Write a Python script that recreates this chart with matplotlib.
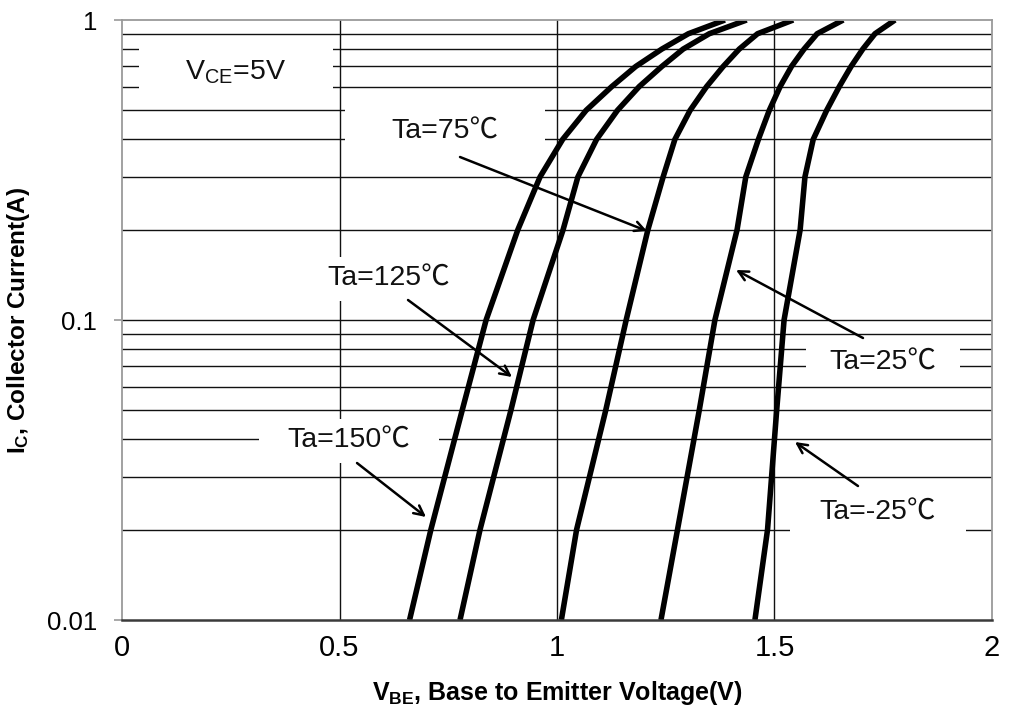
import matplotlib
matplotlib.use("Agg")
import matplotlib.pyplot as plt
from matplotlib.path import Path
from matplotlib.ticker import FixedLocator, NullFormatter, NullLocator

# ---- data ----
current_A = [0.01, 0.02, 0.05, 0.1, 0.2, 0.3, 0.4, 0.5, 0.6, 0.7, 0.8, 0.9, 1.0]
vbe_150 = [0.661, 0.710, 0.782, 0.837, 0.910, 0.961, 1.013, 1.067, 1.126, 1.181, 1.241, 1.302, 1.386]
vbe_125 = [0.777, 0.823, 0.894, 0.945, 1.014, 1.048, 1.091, 1.139, 1.189, 1.241, 1.290, 1.350, 1.436]
vbe_75 = [1.010, 1.045, 1.112, 1.159, 1.209, 1.244, 1.271, 1.306, 1.344, 1.382, 1.419, 1.461, 1.543]
vbe_25 = [1.239, 1.277, 1.327, 1.363, 1.414, 1.434, 1.463, 1.488, 1.513, 1.539, 1.568, 1.598, 1.658]
vbe_m25 = [1.455, 1.484, 1.505, 1.522, 1.559, 1.570, 1.589, 1.620, 1.649, 1.676, 1.703, 1.731, 1.777]
series = [vbe_150, vbe_125, vbe_75, vbe_25, vbe_m25]

x_ticks = [0, 0.5, 1, 1.5, 2]
x_tick_labels = ["0", "0.5", "1", "1.5", "2"]
y_ticks = [0.01, 0.1, 1]
y_tick_labels = ["0.01", "0.1", "1"]
y_minor = [k * 10.0 ** e for e in (-2, -1) for k in range(2, 10)]

FONT = ["Liberation Sans", "Noto Sans CJK JP", "DejaVu Sans"]

plt.rcParams["mathtext.fontset"] = "custom"
plt.rcParams["mathtext.rm"] = "Liberation Sans"
plt.rcParams["mathtext.it"] = "Liberation Sans"
plt.rcParams["mathtext.bf"] = "Liberation Sans:bold"

fig = plt.figure(figsize=(10.17, 7.12), dpi=100)
ax = fig.add_axes([0.120, 0.1292, 0.8554, 0.8427])
ax.set_yscale("log")
ax.set_xlim(0, 2)
ax.set_ylim(0.01, 1)

# grid
for v in [0.5, 1.0, 1.5]:
    ax.axvline(v, color="#111111", lw=1.0, zorder=1)
for yv in y_minor + [0.1]:
    ax.axhline(yv, color="#111111", lw=1.0, zorder=1)

for vals in series:
    ax.plot(vals, current_A, color="black", lw=4.0, solid_capstyle="butt",
            solid_joinstyle="round", zorder=4)

# spines
for s in ["left", "top", "right"]:
    ax.spines[s].set_color("#9a9a9a")
    ax.spines[s].set_linewidth(1.3)
ax.spines["bottom"].set_color("#3a3a3a")
ax.spines["bottom"].set_linewidth(1.8)
for sp in ax.spines.values():
    sp.set_zorder(6)

ax.xaxis.set_major_locator(FixedLocator(x_ticks))
ax.set_xticklabels(x_tick_labels, fontfamily=FONT, fontsize=21)
ax.xaxis.set_minor_locator(NullLocator())
ax.tick_params(axis="x", which="major", length=0, pad=10)
ax.yaxis.set_major_locator(FixedLocator(y_ticks))
ax.yaxis.set_minor_locator(NullLocator())
ax.yaxis.set_minor_formatter(NullFormatter())
ax.set_yticklabels(y_tick_labels, fontfamily=FONT, fontsize=18.5)
ax.tick_params(axis="y", which="major", length=6, color="#9a9a9a", width=1.2, pad=12)

ax.set_xlabel(r"V$_{\mathregular{BE}}$, Base to Emitter Voltage(V)", fontfamily=FONT,
              fontweight="bold", fontsize=18, labelpad=12)
ax.set_ylabel(r"I$_{\mathregular{C}}$, Collector Current(A)", fontfamily=FONT,
              fontweight="bold", fontsize=17.5)
ax.yaxis.set_label_coords(-0.104, 0.5)


def box(half_w, half_h):
    def style(x0, y0, width, height, mutation_size):
        cx = x0 + width / 2.0
        cy = y0 + height / 2.0
        return Path([(cx - half_w, cy - half_h), (cx + half_w, cy - half_h),
                     (cx + half_w, cy + half_h), (cx - half_w, cy + half_h),
                     (cx - half_w, cy - half_h)], closed=True)
    return style


# pixel -> data helpers for label placement
def px(xp, yp):
    v = (xp - 122) / 435.0
    i = 0.01 * 10 ** ((620 - yp) / 300.0)
    return v, i


def label(text, center, half_w, half_h, tail=None, head=None, fs=20.5):
    ax.text(*px(*center), text, fontfamily=FONT, fontsize=fs, ha="center", va="center",
            color="#111111", zorder=3,
            bbox=dict(boxstyle=box(half_w, half_h), facecolor="white", edgecolor="none"))
    if tail is not None:
        ax.annotate("", xy=px(*head), xytext=px(*tail), zorder=5,
                    arrowprops=dict(arrowstyle="->,head_length=0.7,head_width=0.35",
                                    color="black", lw=1.8, shrinkA=0, shrinkB=0))


label(r"V$_{\mathregular{CE}}$=5V", (236, 72), 97, 33)
label("Ta=75℃", (445, 132), 100, 29, tail=(460, 157), head=(647, 231))
label("Ta=125℃", (389, 279), 88, 22, tail=(408, 300), head=(512, 377))
label("Ta=150℃", (349, 441), 90, 22, tail=(357, 463), head=(426, 517))
label("Ta=25℃", (883, 363), 77, 20, tail=(863, 338), head=(736, 270))
label("Ta=-25℃", (878, 513), 88, 22, tail=(858, 486), head=(795, 442))

fig.savefig("out.png", dpi=100, facecolor="white")
